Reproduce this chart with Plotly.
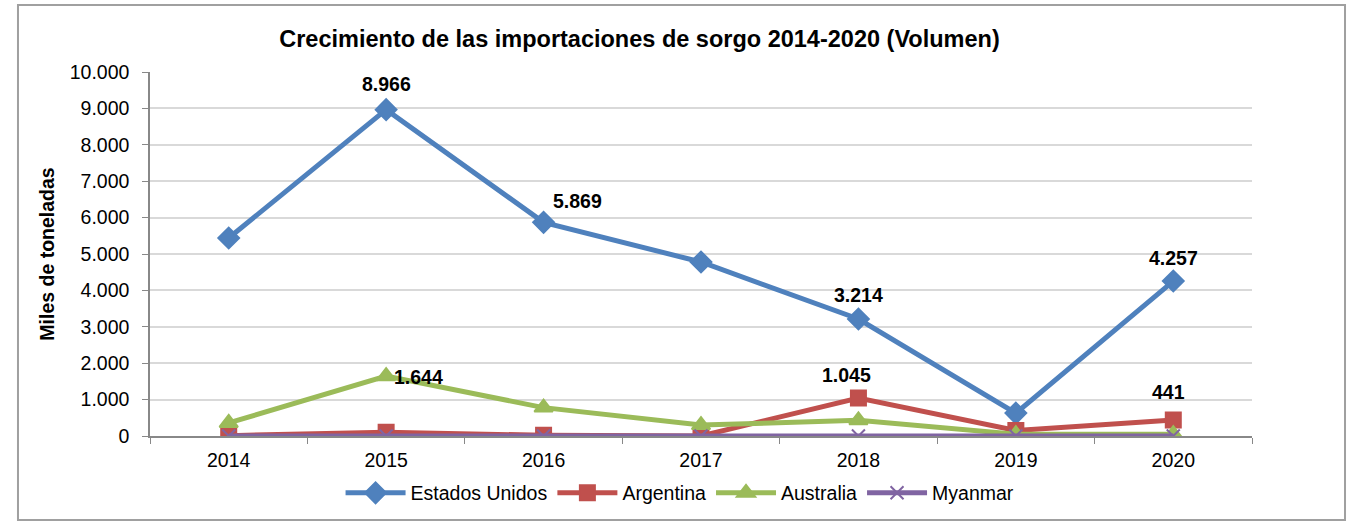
import plotly.graph_objects as go

years = ["2014", "2015", "2016", "2017", "2018", "2019", "2020"]
estados_unidos = [5440, 8966, 5869, 4780, 3214, 630, 4257]
argentina = [10, 100, 20, 0, 1045, 150, 441]
australia = [360, 1644, 780, 300, 430, 50, 50]
myanmar = [0, 0, 0, 0, 0, 0, 0]

series = [
    ("Estados Unidos", estados_unidos, "#4F81BD", "diamond", 16),
    ("Argentina", argentina, "#C0504D", "square", 15),
    ("Australia", australia, "#9BBB59", "triangle-up", 16),
    ("Myanmar", myanmar, "#8064A2", "x-thin-open", 13),
]

# labelled points: (series values, index, xshift, yshift)
labelled = [
    (estados_unidos, 1, 0, 26),
    (estados_unidos, 2, 34, 21),
    (estados_unidos, 4, 0, 24),
    (estados_unidos, 6, 0, 23),
    (australia, 1, 32, -1),
    (argentina, 4, -12, 23),
    (argentina, 6, -5, 28),
]

FONT = "Liberation Sans, Arial, sans-serif"

fig = go.Figure()
for name, vals, col, sym, sz in series:
    fig.add_trace(go.Scatter(
        x=years, y=vals, name=name, mode="lines+markers",
        line=dict(color=col, width=5),
        marker=dict(symbol=sym, size=sz, color=col,
                    line=dict(color=col, width=2)),
    ))

def fmt(v):
    return f"{v:,}".replace(",", ".")

for vals, i, xs, ys in labelled:
    fig.add_annotation(x=i, y=vals[i], xref="x", yref="y",
                       text=f"<b>{fmt(vals[i])}</b>",
                       showarrow=False, xshift=xs, yshift=ys,
                       font=dict(size=19.5, color="black", family=FONT))

fig.add_shape(type="rect", xref="paper", yref="paper",
              x0=-0.1198, x1=1.0844, y0=-0.231, y1=1.184,
              line=dict(color="#A0A0A0", width=2), layer="below")

fig.update_layout(
    width=1352, height=526,
    margin=dict(l=150, r=100, t=72, b=90),
    paper_bgcolor="white", plot_bgcolor="white",
    separators=",.",
    font=dict(family=FONT, size=19.5, color="black"),
    title=dict(text="<b>Crecimiento de las importaciones de sorgo 2014-2020 (Volumen)</b>",
               x=0.473, xanchor="center", xref="container",
               y=1 - 39 / 526, yanchor="middle", yref="container",
               font=dict(size=23.5, family=FONT, color="black")),
    showlegend=True,
    legend=dict(orientation="h", x=0.481, xanchor="center", y=-0.157, yanchor="middle",
                font=dict(size=19.5, family=FONT), tracegroupgap=0, itemwidth=60,
                bgcolor="rgba(0,0,0,0)"),
    xaxis=dict(type="category", tickson="boundaries", ticks="outside", ticklen=6,
               tickcolor="#888888", showline=True, linecolor="#888888", linewidth=1.5,
               showgrid=False, tickfont=dict(size=19.5), range=[-0.5, 6.5],
               ticklabelstandoff=6),
    yaxis=dict(range=[0, 10000], dtick=1000, tickformat=",.0f", ticks="outside",
               ticklen=6, tickcolor="#888888", showline=True, linecolor="#888888",
               linewidth=1.5, gridcolor="#D9D9D9", gridwidth=1.5, zeroline=False,
               tickfont=dict(size=19.5), ticklabelstandoff=9,
               title=dict(text="<b>Miles de toneladas</b>", font=dict(size=19.5), standoff=10)),
)

fig.write_html("out.html", config={"displayModeBar": False},
               post_script="document.body.style.margin='0';")
